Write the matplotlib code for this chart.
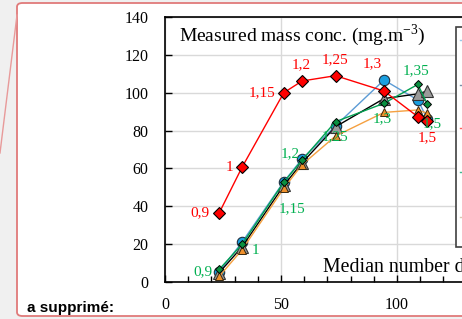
import matplotlib
matplotlib.use("Agg")
import matplotlib.pyplot as plt
from matplotlib.patches import FancyBboxPatch, Rectangle
from matplotlib.lines import Line2D

plt.rcParams['font.family'] = ['Liberation Serif', 'DejaVu Serif']

# ---- data ----
diam = [23.4, 33.2, 51.2, 59.1, 73.5, 94.4, 109.0, 113.1]
red_y = [36.6, 60.6, 100.0, 106.2, 109.0, 100.9, 87.3, 85.0]
green_y = [6.7, 19.9, 52.7, 64.4, 84.7, 94.4, 104.4, 93.9]
blue_y = [5.5, 21.0, 53.0, 65.0, 82.5, 106.7, 96.1, 86.0]
gray_y = [5.0, 18.5, 51.0, 63.0, 82.0, 96.9, 99.4, 100.9]
orange_y = [3.0, 17.0, 49.5, 62.0, 77.1, 89.6, 90.9, 89.1]
red_labels = ["0,9", "1", "1,15", "1,2", "1,25", "1,3", "", "1,5"]
green_labels = ["0,9", "1", "1,15", "1,2", "1,25", "1,3", "1,35", "1,5"]
yticks = [0, 20, 40, 60, 80, 100, 120, 140]
xticks = [0, 50, 100]

W, H = 462, 319
fig = plt.figure(figsize=(W / 100, H / 100), dpi=100, facecolor='#f0f0f0')

def fx(px):
    return px / W

def fy(py):
    return 1 - py / H

# comment balloon
balloon = FancyBboxPatch((fx(17), fy(316)), fx(520) - fx(17), fy(3) - fy(316),
                         boxstyle="round,pad=0,rounding_size=0.012",
                         transform=fig.transFigure, facecolor='white',
                         edgecolor='#e07a7a', linewidth=1.3, zorder=-5)
fig.add_artist(balloon)
fig.add_artist(Line2D([fx(0), fx(17)], [fy(153), fy(15)], transform=fig.transFigure,
                      color='#e89a9a', lw=1.0, zorder=-4))
fig.text(fx(27), fy(308), "a supprimé:", family='Liberation Sans', weight='bold',
         fontsize=11, va='center', ha='left')

# axes
x0, x1 = 0, 150
left_px, bottom_px, top_px = 165, 282, 17
px_per_x = 2.32
ax = fig.add_axes([fx(left_px), fy(bottom_px), (x1 - x0) * px_per_x / W, (bottom_px - top_px) / H])
ax.set_xlim(x0, x1)
ax.set_ylim(0, 140)
ax.set_facecolor('white')
ax.set_yticks(yticks)
ax.set_xticks(xticks)
ax.set_xticks(range(0, 151, 10), minor=True)
ax.grid(True, which='major', color='#d9d9d9', lw=1.0)
ax.set_axisbelow(True)
for s in ['left', 'bottom', 'top']:
    ax.spines[s].set_color('black')
    ax.spines[s].set_linewidth(1.2)
ax.spines['right'].set_visible(False)
ax.tick_params(axis='y', direction='in', length=5, width=1, pad=12, labelsize=11.5)
ax.tick_params(axis='x', which='major', direction='in', length=5, width=1, pad=11, labelsize=11.5)
ax.tick_params(axis='x', which='minor', direction='in', length=4, width=1)

ax.plot(diam, blue_y, color='#5b9bd5', lw=1, marker='o', ms=7.5, mfc='#1a9fe0',
        mec='#1f2f3f', mew=0.8, zorder=3)
ax.plot(diam, gray_y, color='black', lw=1, marker='^', ms=8, mfc='#9a9a9a',
        mec='#333333', mew=0.8, zorder=4)
ax.plot(diam, orange_y, color='#f5a040', lw=1, marker='^', ms=5.5, mfc='#f0902c',
        mec='#3a2a10', mew=0.7, zorder=5)
ax.plot(diam, green_y, color='#00a050', lw=1, marker='D', ms=4, mfc='#0a9040',
        mec='black', mew=0.7, zorder=6)
ax.plot(diam, red_y, color='#ff0000', lw=1, marker='D', ms=6, mfc='#ff0000',
        mec='black', mew=0.8, zorder=7)

red_off = [(-19, 0), (-13, 0), (-22, 0), (-1, 16), (0, 16), (-12, 27), (0, 0), (0, -17)]
green_off = [(-16, -2), (13, -6), (8, -26), (-12, 6), (0, -15), (-2, -15), (-2, 14), (5, -19)]
for x, y, t, o in zip(diam, red_y, red_labels, red_off):
    if t:
        ax.annotate(t, (x, y), xytext=o, textcoords='offset pixels', ha='center',
                    va='center', color='#ff0000', fontsize=11, zorder=8)
for x, y, t, o in zip(diam, green_y, green_labels, green_off):
    ax.annotate(t, (x, y), xytext=o, textcoords='offset pixels', ha='center',
                va='center', color='#00b050', fontsize=11, zorder=8)

ax.text((179 - left_px) / px_per_x, 130.5, 'Measured mass conc. (mg.m$^{\\mathregular{-3}}$)',
        fontsize=14, ha='left', va='center', zorder=9)
ax.text((323 - left_px) / px_per_x, 7.4, 'Median number diameter (nm)',
        fontsize=14.3, ha='left', va='center', zorder=9)

# legend box (mostly cut off)
fig.add_artist(Rectangle((fx(456), fy(247)), fx(600) - fx(456), fy(27) - fy(247),
                         transform=fig.transFigure, facecolor='white',
                         edgecolor='#404040', lw=1.2, zorder=10))
for py, c in zip([40, 85, 128, 172, 217], ['#9ac8e8', '#7a8fa8', '#ff6060', '#40b890', '#d8c8b0']):
    fig.add_artist(Line2D([fx(460), fx(463)], [fy(py), fy(py)], transform=fig.transFigure,
                          color=c, lw=1, zorder=11))

fig.savefig('out.png', dpi=100, facecolor=fig.get_facecolor())
